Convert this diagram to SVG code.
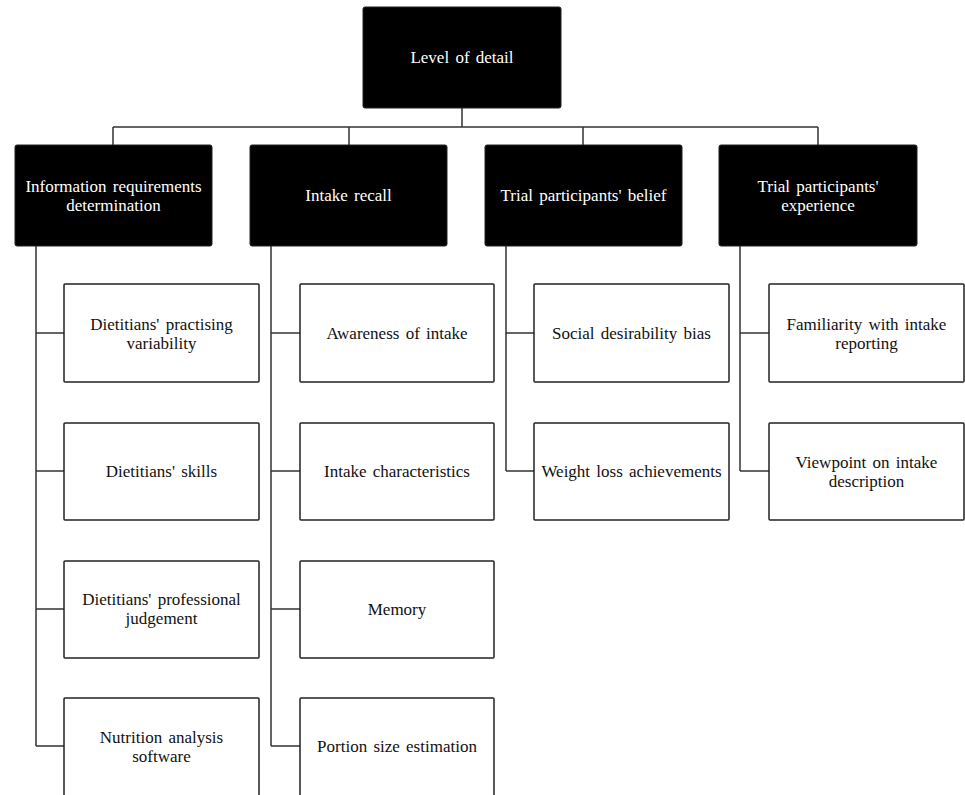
<svg xmlns="http://www.w3.org/2000/svg" width="965" height="795" viewBox="0 0 965 795">
<style>
text{font-family:"Liberation Serif","Times New Roman",serif;font-size:17px;text-anchor:middle;dominant-baseline:central;word-spacing:2px}
.dark rect{fill:#000;stroke:#222;stroke-width:1}
.dark text{fill:#fff}
.light rect{fill:#fff;stroke:#222;stroke-width:1.5}
.light text{fill:#111}
.conn path{fill:none;stroke:#333;stroke-width:1.5}
</style>
<rect width="965" height="795" fill="#fff"/>
<g class="conn" id="connectors">
<path d="M462 108V127M113 127H818M113 127V145M349 127V145M583 127V145M818 127V145"/>
<path d="M36 246V746M36 333H64M36 471H64M36 609H64M36 746H64"/>
<path d="M271 246V746M271 333H300M271 471H300M271 609H300M271 746H300"/>
<path d="M506 246V471M506 333H534M506 471H534"/>
<path d="M740 246V471M740 333H769M740 471H769"/>
</g>
<g id="root" class="dark"><rect x="363" y="7" width="198" height="101" rx="2"/><text x="462" y="57">Level of detail</text></g>
<g id="n1" class="dark"><rect x="15" y="145" width="197" height="101" rx="2"/><text x="113.5" y="186">Information requirements</text><text x="113.5" y="205">determination</text></g>
<g id="n2" class="dark"><rect x="250" y="145" width="197" height="101" rx="2"/><text x="348.5" y="195.5">Intake recall</text></g>
<g id="n3" class="dark"><rect x="485" y="145" width="197" height="101" rx="2"/><text x="583.5" y="195.5">Trial participants' belief</text></g>
<g id="n4" class="dark"><rect x="719" y="145" width="198" height="101" rx="2"/><text x="818" y="186">Trial participants'</text><text x="818" y="205">experience</text></g>
<g id="c11" class="light"><rect x="64" y="284" width="195" height="98" rx="1"/><text x="161.5" y="324">Dietitians' practising</text><text x="161.5" y="343">variability</text></g>
<g id="c12" class="light"><rect x="64" y="423" width="195" height="97" rx="1"/><text x="161.5" y="471">Dietitians' skills</text></g>
<g id="c13" class="light"><rect x="64" y="561" width="195" height="97" rx="1"/><text x="161.5" y="599">Dietitians' professional</text><text x="161.5" y="618">judgement</text></g>
<g id="c14" class="light"><rect x="64" y="698" width="195" height="99" rx="1"/><text x="161.5" y="737">Nutrition analysis</text><text x="161.5" y="756">software</text></g>
<g id="c21" class="light"><rect x="300" y="284" width="194" height="98" rx="1"/><text x="397" y="333">Awareness of intake</text></g>
<g id="c22" class="light"><rect x="300" y="423" width="194" height="97" rx="1"/><text x="397" y="471">Intake characteristics</text></g>
<g id="c23" class="light"><rect x="300" y="561" width="194" height="97" rx="1"/><text x="397" y="609">Memory</text></g>
<g id="c24" class="light"><rect x="300" y="698" width="194" height="99" rx="1"/><text x="397" y="746">Portion size estimation</text></g>
<g id="c31" class="light"><rect x="534" y="284" width="195" height="98" rx="1"/><text x="631.5" y="333">Social desirability bias</text></g>
<g id="c32" class="light"><rect x="534" y="423" width="195" height="97" rx="1"/><text x="631.5" y="471">Weight loss achievements</text></g>
<g id="c41" class="light"><rect x="769" y="284" width="195" height="98" rx="1"/><text x="866.5" y="324">Familiarity with intake</text><text x="866.5" y="343">reporting</text></g>
<g id="c42" class="light"><rect x="769" y="423" width="195" height="97" rx="1"/><text x="866.5" y="462">Viewpoint on intake</text><text x="866.5" y="481">description</text></g>
</svg>
